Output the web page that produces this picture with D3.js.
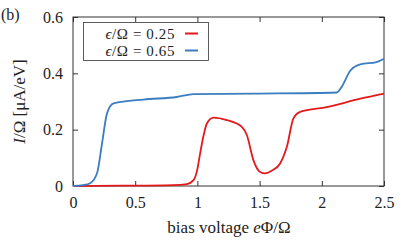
<!DOCTYPE html>
<html>
<head>
<meta charset="utf-8">
<script src="https://cdn.jsdelivr.net/npm/d3@7"></script>
<style>
  body { margin: 0; background: #fff; }
</style>
</head>
<body>
<svg id="chart" width="415" height="241"></svg>
<script>
// Data
const biasRed = [0, 0.4, 0.8, 0.916, 0.969, 1.0, 1.022, 1.05, 1.076, 1.129, 1.237, 1.357, 1.398, 1.45, 1.504, 1.545, 1.6, 1.665, 1.719, 1.772, 1.826, 2.04, 2.31, 2.5];
const currentRed = [0, 0.001, 0.003, 0.007, 0.021, 0.06, 0.116, 0.18, 0.222, 0.243, 0.234, 0.21, 0.18, 0.092, 0.05, 0.045, 0.055, 0.08, 0.139, 0.24, 0.263, 0.28, 0.31, 0.328];

const biasBlue = [0, 0.08, 0.139, 0.193, 0.233, 0.273, 0.326, 0.567, 0.835, 0.969, 1.47, 2.12, 2.16, 2.23, 2.31, 2.44, 2.5];
const currentBlue = [0, 0.003, 0.01, 0.045, 0.15, 0.257, 0.293, 0.307, 0.316, 0.326, 0.328, 0.332, 0.352, 0.41, 0.432, 0.44, 0.452];

const xTicks = [0, 0.5, 1, 1.5, 2, 2.5];
const yTicks = [0, 0.2, 0.4, 0.6];
const seriesValues = ["0.25", "0.65"];
const seriesColors = ["#e3191c", "#3a7dc0"];

const FONT = "Liberation Serif";
const svg = d3.select("#chart");
const margin = { left: 73, right: 31, top: 17, bottom: 55 };
const w = 415 - margin.left - margin.right;
const h = 241 - margin.top - margin.bottom;

const x = d3.scaleLinear().domain([0, 2.5]).range([margin.left, margin.left + w]);
const y = d3.scaleLinear().domain([0, 0.6]).range([margin.top + h, margin.top]);

const fmt = d => d === 0 ? "0" : d3.format("~g")(d);

// axes with inward ticks, mirrored
svg.append("g").attr("transform", `translate(0,${y(0)})`)
    .call(d3.axisBottom(x).tickValues(xTicks).tickSize(-5).tickPadding(11).tickFormat(fmt))
    .call(g => g.select(".domain").remove());
svg.append("g").attr("transform", `translate(0,${y(0.6)})`)
    .call(d3.axisTop(x).tickValues(xTicks).tickSize(-5).tickFormat(""))
    .call(g => g.select(".domain").remove());
svg.append("g").attr("transform", `translate(${x(0)},0)`)
    .call(d3.axisLeft(y).tickValues(yTicks).tickSize(-5).tickPadding(10).tickFormat(fmt))
    .call(g => g.select(".domain").remove());
svg.append("g").attr("transform", `translate(${x(2.5)},0)`)
    .call(d3.axisRight(y).tickValues(yTicks).tickSize(-5).tickFormat(""))
    .call(g => g.select(".domain").remove());

svg.selectAll("g").attr("font-family", FONT);
svg.selectAll(".tick line").attr("stroke", "#333");
svg.selectAll(".tick text").attr("font-size", 16).attr("fill", "#222");

svg.append("rect")
    .attr("x", x(0)).attr("y", y(0.6))
    .attr("width", x(2.5) - x(0)).attr("height", y(0) - y(0.6))
    .attr("fill", "none").attr("stroke", "#333").attr("stroke-width", 1);

// curves
const line = d3.line().x(d => x(d[0])).y(d => y(d[1])).curve(d3.curveMonotoneX);
const redData = d3.zip(biasRed, currentRed);
const blueData = d3.zip(biasBlue, currentBlue);

svg.append("path").datum(redData).attr("d", line)
    .attr("fill", "none").attr("stroke", seriesColors[0]).attr("stroke-width", 1.8);
svg.append("path").datum(blueData).attr("d", line)
    .attr("fill", "none").attr("stroke", seriesColors[1]).attr("stroke-width", 1.8);

// legend
svg.append("rect").attr("x", 83.5).attr("y", 22.5).attr("width", 125).attr("height", 38)
    .attr("fill", "#fff").attr("stroke", "#333").attr("stroke-width", 0.8);
seriesValues.forEach((v, i) => {
    const ly = 33.5 + i * 17;
    const t = svg.append("text").attr("x", 175).attr("y", ly + 5)
        .attr("text-anchor", "end").attr("font-size", 15)
        .attr("letter-spacing", 0.6)
        .attr("font-family", FONT).attr("fill", "#222");
    t.append("tspan").attr("font-style", "italic").text("ϵ");
    t.append("tspan").text("/Ω = " + v);
    svg.append("line").attr("x1", 185).attr("x2", 198).attr("y1", ly).attr("y2", ly)
        .attr("stroke", seriesColors[i]).attr("stroke-width", 2);
});

// labels
svg.append("text").attr("x", 1).attr("y", 20).attr("font-size", 16)
    .attr("font-family", FONT).attr("fill", "#222").text("(b)");

const xl = svg.append("text").attr("x", 229).attr("y", 233)
    .attr("text-anchor", "middle").attr("font-size", 17)
    .attr("font-family", FONT).attr("fill", "#222");
xl.append("tspan").text("bias voltage ");
xl.append("tspan").attr("font-style", "italic").text("e");
xl.append("tspan").text("Φ/Ω");

const yl = svg.append("text")
    .attr("transform", `translate(25,${(y(0) + y(0.6)) / 2}) rotate(-90)`)
    .attr("text-anchor", "middle").attr("font-size", 17)
    .attr("font-family", FONT).attr("fill", "#222");
yl.append("tspan").attr("font-style", "italic").text("I");
yl.append("tspan").text("/Ω [μA/eV]");
</script>
</body>
</html>
